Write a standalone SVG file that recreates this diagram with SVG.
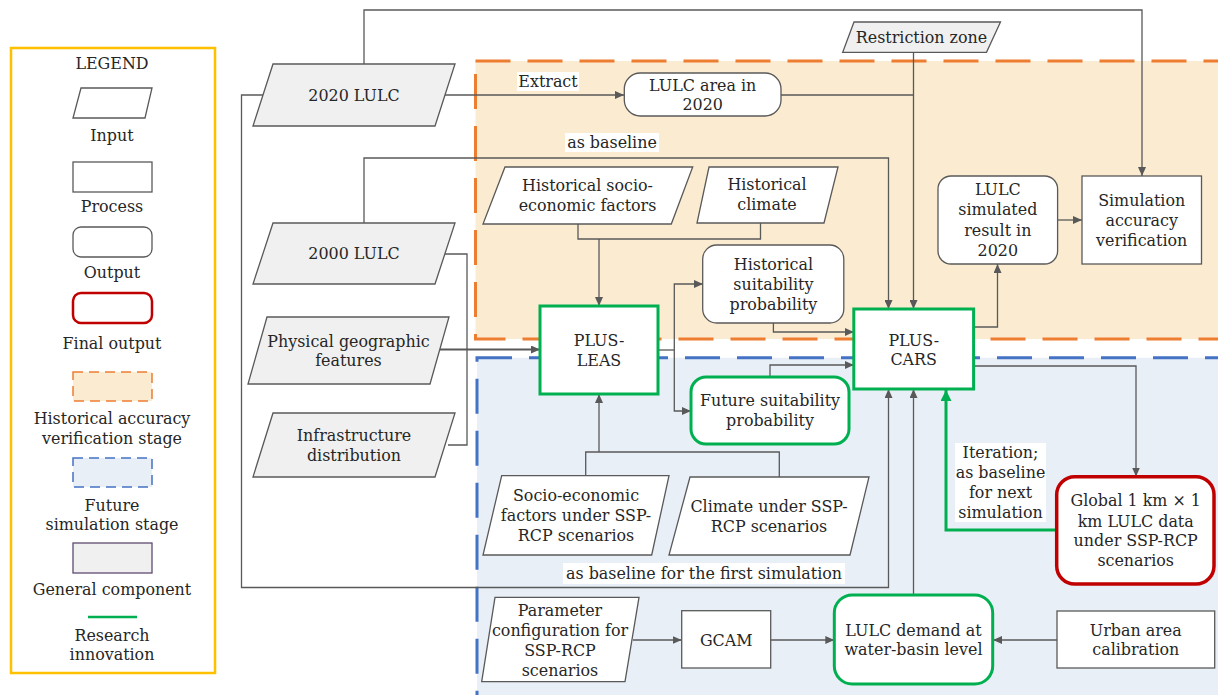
<svg xmlns="http://www.w3.org/2000/svg" width="1218" height="695" viewBox="0 0 1218 695">
<defs>
<style>
text{font-family:"DejaVu Serif","Liberation Serif",serif;font-size:15.9px;fill:#262626;text-anchor:middle;dominant-baseline:central}
.in{fill:#f0f0f0;stroke:#595959;stroke-width:1.3}
.inw{fill:#ffffff;stroke:#595959;stroke-width:1.3}
.pr{fill:#ffffff;stroke:#595959;stroke-width:1.3}
.gr{fill:#ffffff;stroke:#00b050;stroke-width:3}
.rd{fill:#ffffff;stroke:#c00000;stroke-width:3.5}
.ln{fill:none;stroke:#595959;stroke-width:1.3}
.ar{fill:none;stroke:#595959;stroke-width:1.3;marker-end:url(#ah)}
.gar{fill:none;stroke:#00b050;stroke-width:3;marker-end:url(#gah)}
.lbg{fill:#ffffff}
</style>
<marker id="ah" markerUnits="userSpaceOnUse" markerWidth="10" markerHeight="8" refX="9" refY="4" orient="auto"><path d="M0,0 L9,4 L0,8 z" fill="#595959"/></marker>
<marker id="gah" markerUnits="userSpaceOnUse" markerWidth="12" markerHeight="12" refX="11" refY="5.5" orient="auto"><path d="M0,0 L11,5.5 L0,11 z" fill="#00b050"/></marker>
</defs>
<rect width="1218" height="695" fill="#ffffff"/>

<g id="legend">
<rect x="11" y="48" width="204" height="625" fill="#ffffff" stroke="#ffc000" stroke-width="2.5"/>
<text x="112" y="63">LEGEND</text>
<polygon class="in" points="81,88 152,88 145,118 73,118" style="fill:#ffffff"/>
<text x="112" y="135">Input</text>
<rect class="pr" x="73" y="162" width="79" height="30"/>
<text x="112" y="206">Process</text>
<rect class="pr" x="73" y="227" width="79" height="30" rx="8"/>
<text x="112" y="272">Output</text>
<rect class="rd" x="73" y="293" width="79" height="30" rx="8" style="stroke-width:2.5"/>
<text x="112" y="343">Final output</text>
<rect x="73" y="372" width="79" height="29" fill="#fbebd0" stroke="#ed7d31" stroke-width="1.5" stroke-dasharray="10 6"/>
<text x="112" y="418">Historical accuracy</text>
<text x="112" y="438">verification stage</text>
<rect x="73" y="458" width="79" height="29" fill="#e9eff7" stroke="#4472c4" stroke-width="1.5" stroke-dasharray="10 6"/>
<text x="112" y="505">Future</text>
<text x="112" y="524">simulation stage</text>
<rect x="73" y="543" width="79" height="30" fill="#f0f0f0" stroke="#604a70" stroke-width="1.3"/>
<text x="112" y="589">General component</text>
<line x1="88" y1="617" x2="137" y2="617" stroke="#00b050" stroke-width="2.5"/>
<text x="112" y="635">Research</text>
<text x="112" y="654">innovation</text>
</g>

<g id="stages">
<rect x="475.5" y="61" width="760" height="278" fill="#fbebd0" stroke="#ed7d31" stroke-width="3" stroke-dasharray="35 17"/>
<rect x="477" y="357.7" width="760" height="360" fill="#e9eff7" stroke="#4472c4" stroke-width="3" stroke-dasharray="35 17"/>
</g>

<g id="connectors">
<polyline class="ar" points="364,64 364,10 1142,10 1142,176"/>
<polyline class="ar" points="445,95 624,95"/>
<rect class="lbg" x="517" y="72" width="62" height="19"/>
<text x="548" y="81">Extract</text>
<polyline class="ln" points="781,95 913.5,95"/>
<polyline class="ar" points="913.5,52 913.5,309"/>
<polyline class="ar" points="364,223 364,158 888.5,158 888.5,309"/>
<rect class="lbg" x="565" y="133" width="94" height="19"/>
<text x="612" y="142">as baseline</text>
<polyline class="ln" points="578,224 578,239 760.5,239 760.5,223"/>
<polyline class="ar" points="599,239 599,306"/>
<polyline class="ln" points="445,254 467,254 467,445 448,445"/>
<polyline class="ar" points="440,349.5 540,349.5" style="stroke-width:2"/>
<polyline class="ln" points="658,350 674.3,350"/>
<polyline class="ar" points="674.3,350 674.3,284 703,284"/>
<polyline class="ar" points="674.3,350 674.3,411 691,411"/>
<polyline class="ar" points="773.4,323 773.4,332 853.8,332"/>
<polyline class="ar" points="770,377 770,365 853.8,365"/>
<polyline class="ar" points="973.6,327 997.5,327 997.5,264"/>
<polyline class="ar" points="1057.6,220 1082,220"/>
<polyline class="ar" points="973.6,366 1136,366 1136,476.5"/>
<polyline class="ln" points="585.7,476 585.7,452 779.3,452 779.3,477"/>
<polyline class="ar" points="599,452 599,394"/>
<polyline class="ar" points="263,95 241.5,95 241.5,587.5 888.5,587.5 888.5,389"/>
<rect class="lbg" x="563" y="563" width="282" height="21"/>
<text x="704" y="573">as baseline for the first simulation</text>
<polyline class="ar" points="913.5,595 913.5,389"/>
<polyline class="gar" points="1057,530 946,530 946,390"/>
<rect class="lbg" x="955" y="443" width="91" height="79"/>
<text x="1000.5" y="452.7">Iteration;</text>
<text x="1000.5" y="472.7">as baseline</text>
<text x="1000.5" y="492">for next</text>
<text x="1000.5" y="512">simulation</text>
<polyline class="ar" points="633,640 681.7,640"/>
<polyline class="ar" points="770.7,640 834.3,640"/>
<polyline class="ar" points="1057,640 993,640"/>
</g>

<g id="n-lulc2020">
<polygon class="in" points="273,64 455,64 435,126 253,126"/>
<text x="354" y="95">2020 LULC</text>
</g>
<g id="n-lulc2000">
<polygon class="in" points="273,223 455,223 435,284 253,284"/>
<text x="354" y="253.5">2000 LULC</text>
</g>
<g id="n-physical">
<polygon class="in" points="267,317 449,317 430,384 248,384"/>
<text x="348.5" y="341">Physical geographic</text>
<text x="348.5" y="360">features</text>
</g>
<g id="n-infra">
<polygon class="in" points="273,413 455,413 435,477 253,477"/>
<text x="354" y="435">Infrastructure</text>
<text x="354" y="455">distribution</text>
</g>
<g id="n-restriction">
<polygon class="in" points="854,22 1000.5,22 986.5,52.3 842.7,52.3"/>
<text x="921.5" y="37">Restriction zone</text>
</g>
<g id="n-area2020">
<rect class="pr" x="624.3" y="73" width="156.7" height="43" rx="16"/>
<text x="702.7" y="85">LULC area in</text>
<text x="702.7" y="104">2020</text>
</g>
<g id="n-histsocio">
<polygon class="inw" points="505,167 692.7,167 671.3,224 483,224"/>
<text x="587.5" y="185">Historical socio-</text>
<text x="587.5" y="205.5">economic factors</text>
</g>
<g id="n-histclimate">
<polygon class="inw" points="709,167 838,167 824,223 697,223"/>
<text x="767" y="184">Historical</text>
<text x="767" y="204">climate</text>
</g>
<g id="n-histsuit">
<rect class="pr" x="702.7" y="245" width="141.1" height="78" rx="14"/>
<text x="773.4" y="264">Historical</text>
<text x="773.4" y="284">suitability</text>
<text x="773.4" y="304">probability</text>
</g>
<g id="n-leas">
<rect class="gr" x="540" y="306" width="118" height="88"/>
<text x="599" y="340">PLUS-</text>
<text x="599" y="360">LEAS</text>
</g>
<g id="n-futsuit">
<rect class="gr" x="691" y="377" width="158" height="67" rx="15"/>
<text x="770" y="400.7">Future suitability</text>
<text x="770" y="420.7">probability</text>
</g>
<g id="n-cars">
<rect class="gr" x="853.8" y="309" width="119.8" height="80"/>
<text x="913.7" y="340">PLUS-</text>
<text x="913.7" y="359">CARS</text>
</g>
<g id="n-simresult">
<rect class="pr" x="938" y="176" width="119.6" height="88" rx="13"/>
<text x="997.8" y="189">LULC</text>
<text x="997.8" y="209.5">simulated</text>
<text x="997.8" y="230">result in</text>
<text x="997.8" y="250">2020</text>
</g>
<g id="n-verify">
<rect class="pr" x="1082" y="176" width="119.5" height="88"/>
<text x="1141.7" y="200">Simulation</text>
<text x="1141.7" y="220.5">accuracy</text>
<text x="1141.7" y="240.5">verification</text>
</g>
<g id="n-socio-ssp">
<polygon class="inw" points="501.7,475.7 669,475.7 651.7,555 483,555"/>
<text x="576" y="495.7">Socio-economic</text>
<text x="576" y="515.7">factors under SSP-</text>
<text x="576" y="535.7">RCP scenarios</text>
</g>
<g id="n-climate-ssp">
<polygon class="inw" points="690,477 869,477 850,555 669,555"/>
<text x="769" y="506.7">Climate under SSP-</text>
<text x="769" y="526.7">RCP scenarios</text>
</g>
<g id="n-global">
<rect class="rd" x="1056.7" y="476.7" width="157.3" height="107.3" rx="18"/>
<text x="1135.7" y="500.7">Global 1 km × 1</text>
<text x="1135.7" y="521">km LULC data</text>
<text x="1135.7" y="540.7">under SSP-RCP</text>
<text x="1135.7" y="560">scenarios</text>
</g>
<g id="n-param">
<polygon class="inw" points="495,597.3 639,597.3 625,681.7 481.7,681.7"/>
<text x="560" y="610.7">Parameter</text>
<text x="560" y="630">configuration for</text>
<text x="560" y="650">SSP-RCP</text>
<text x="560" y="670">scenarios</text>
</g>
<g id="n-gcam">
<rect class="pr" x="681.7" y="610.7" width="89" height="57.3"/>
<text x="726.2" y="640">GCAM</text>
</g>
<g id="n-demand">
<rect class="gr" x="834.3" y="595" width="158.4" height="89" rx="18"/>
<text x="913.5" y="630">LULC demand at</text>
<text x="913.5" y="649">water-basin level</text>
</g>
<g id="n-urban">
<rect class="pr" x="1057" y="611" width="157.7" height="57"/>
<text x="1135.8" y="630">Urban area</text>
<text x="1135.8" y="649">calibration</text>
</g>
</svg>
